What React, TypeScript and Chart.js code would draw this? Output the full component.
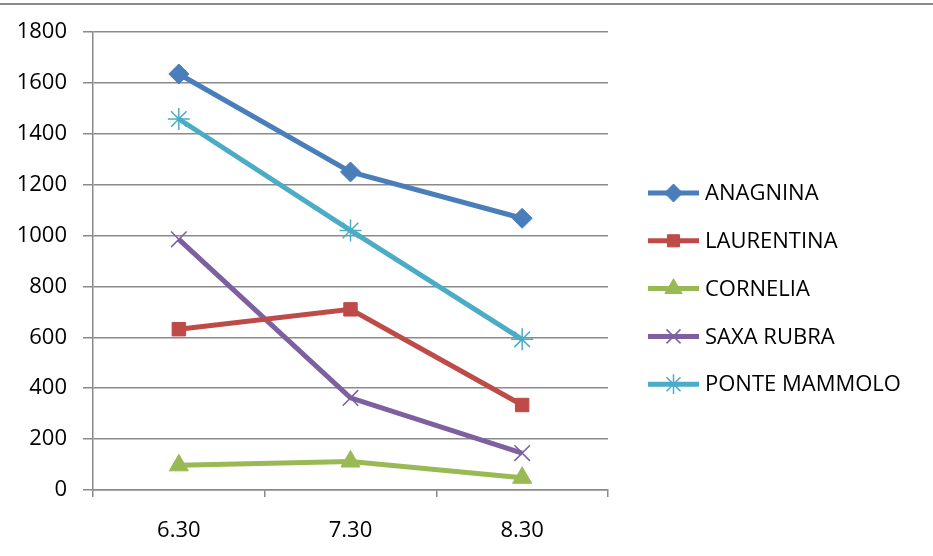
import React, { useEffect, useRef } from "react";
import { Chart, registerables } from "chart.js";
import * as helpers from "chart.js/helpers";

Chart.register(...registerables);

const categories = ["6.30", "7.30", "8.30"];
const anagnina = [1635, 1250, 1068];
const laurentina = [632, 710, 334];
const cornelia = [97, 112, 48];
const saxaRubra = [985, 362, 145];
const ponteMammolo = [1458, 1020, 592];
const yTicks = [0, 200, 400, 600, 800, 1000, 1200, 1400, 1600, 1800];

const FONT = "'Open Sans', 'Liberation Sans', sans-serif";
const FSIZE = 22;

const seriesDefs = [
  { label: "ANAGNINA", data: anagnina, color: "#4A7EBB", style: "rectRot", radius: 10, bw: 1 },
  { label: "LAURENTINA", data: laurentina, color: "#BE4B48", style: "rect", radius: 9.5, bw: 1 },
  { label: "CORNELIA", data: cornelia, color: "#98B954", style: "triangle", radius: 11, bw: 1 },
  { label: "SAXA RUBRA", data: saxaRubra, color: "#7D60A0", style: "crossRot", radius: 11, bw: 1.5 },
  { label: "PONTE MAMMOLO", data: ponteMammolo, color: "#4BACC6", style: "star", radius: 11, bw: 1.5 },
];

const legendPlugin = {
  id: "customLegend",
  afterDraw(chart: any) {
    const ctx = chart.ctx;
    ctx.save();
    ctx.strokeStyle = "#8a8a8a";
    ctx.lineWidth = 2;
    ctx.beginPath();
    ctx.moveTo(0, 4);
    ctx.lineTo(chart.width, 4);
    ctx.stroke();

    const x0 = 648;
    const x1 = 699;
    const startY = 193;
    const gap = 47.8;
    seriesDefs.forEach((s, i) => {
      const y = startY + i * gap;
      ctx.strokeStyle = s.color;
      ctx.lineWidth = 5;
      ctx.lineCap = "butt";
      ctx.beginPath();
      ctx.moveTo(x0, y);
      ctx.lineTo(x1, y);
      ctx.stroke();
      ctx.fillStyle = s.color;
      ctx.strokeStyle = s.color;
      ctx.lineWidth = s.bw;
      (helpers as any).drawPoint(
        ctx,
        { pointStyle: s.style, radius: s.radius * 0.9, rotation: 0, borderWidth: s.bw },
        (x0 + x1) / 2,
        y
      );
      ctx.fillStyle = "#000";
      ctx.font = `${FSIZE}px ${FONT}`;
      ctx.textBaseline = "middle";
      ctx.textAlign = "left";
      ctx.fillText(s.label, 705, y + 1);
    });
    ctx.restore();
  },
};

export default function App() {
  const ref = useRef<HTMLCanvasElement | null>(null);
  useEffect(() => {
    if (!ref.current) return;
    const chart = new Chart(ref.current, {
      type: "line",
      data: {
        labels: categories,
        datasets: seriesDefs.map((s) => ({
          label: s.label,
          data: s.data,
          borderColor: s.color,
          backgroundColor: s.color,
          borderWidth: 5,
          pointStyle: s.style as any,
          pointRadius: s.radius,
          pointHoverRadius: s.radius,
          pointBorderWidth: s.bw,
          pointBackgroundColor: s.color,
          pointBorderColor: s.color,
          tension: 0,
        })),
      },
      options: {
        animation: false,
        responsive: false,
        maintainAspectRatio: false,
        layout: { padding: { left: 0, right: 325, top: 32, bottom: 0 } },
        plugins: {
          legend: { display: false },
          tooltip: { enabled: false },
        },
        scales: {
          x: {
            type: "category",
            offset: true,
            grid: {
              display: true,
              drawOnChartArea: false,
              drawTicks: true,
              tickLength: 7,
              offset: true,
              color: "#8a8a8a",
              lineWidth: 1.5,
            },
            border: { display: true, color: "#8a8a8a", width: 1.5 },
            ticks: {
              color: "#000",
              font: { family: FONT, size: FSIZE },
              padding: 21,
              maxRotation: 0,
            },
            afterFit(scale: any) {
              scale.height = 66;
            },
          },
          y: {
            min: 0,
            max: 1800,
            afterBuildTicks(scale: any) {
              scale.ticks = yTicks.map((v) => ({ value: v }));
            },
            grid: {
              color: "#8a8a8a",
              lineWidth: 1.5,
              drawTicks: true,
              tickLength: 10,
            },
            border: { display: true, color: "#8a8a8a", width: 1.5 },
            ticks: {
              color: "#000",
              font: { family: FONT, size: FSIZE },
              padding: 16,
              callback: (v: any) => String(v),
            },
            afterFit(scale: any) {
              scale.width = 93;
            },
          },
        },
      },
      plugins: [legendPlugin],
    });
    return () => chart.destroy();
  }, []);
  return (
    <div style={{ position: "fixed", left: 0, top: 0, width: 933, height: 556, background: "#fff" }}>
      <canvas ref={ref} width={933} height={556} style={{ width: 933, height: 556 }} />
    </div>
  );
}
